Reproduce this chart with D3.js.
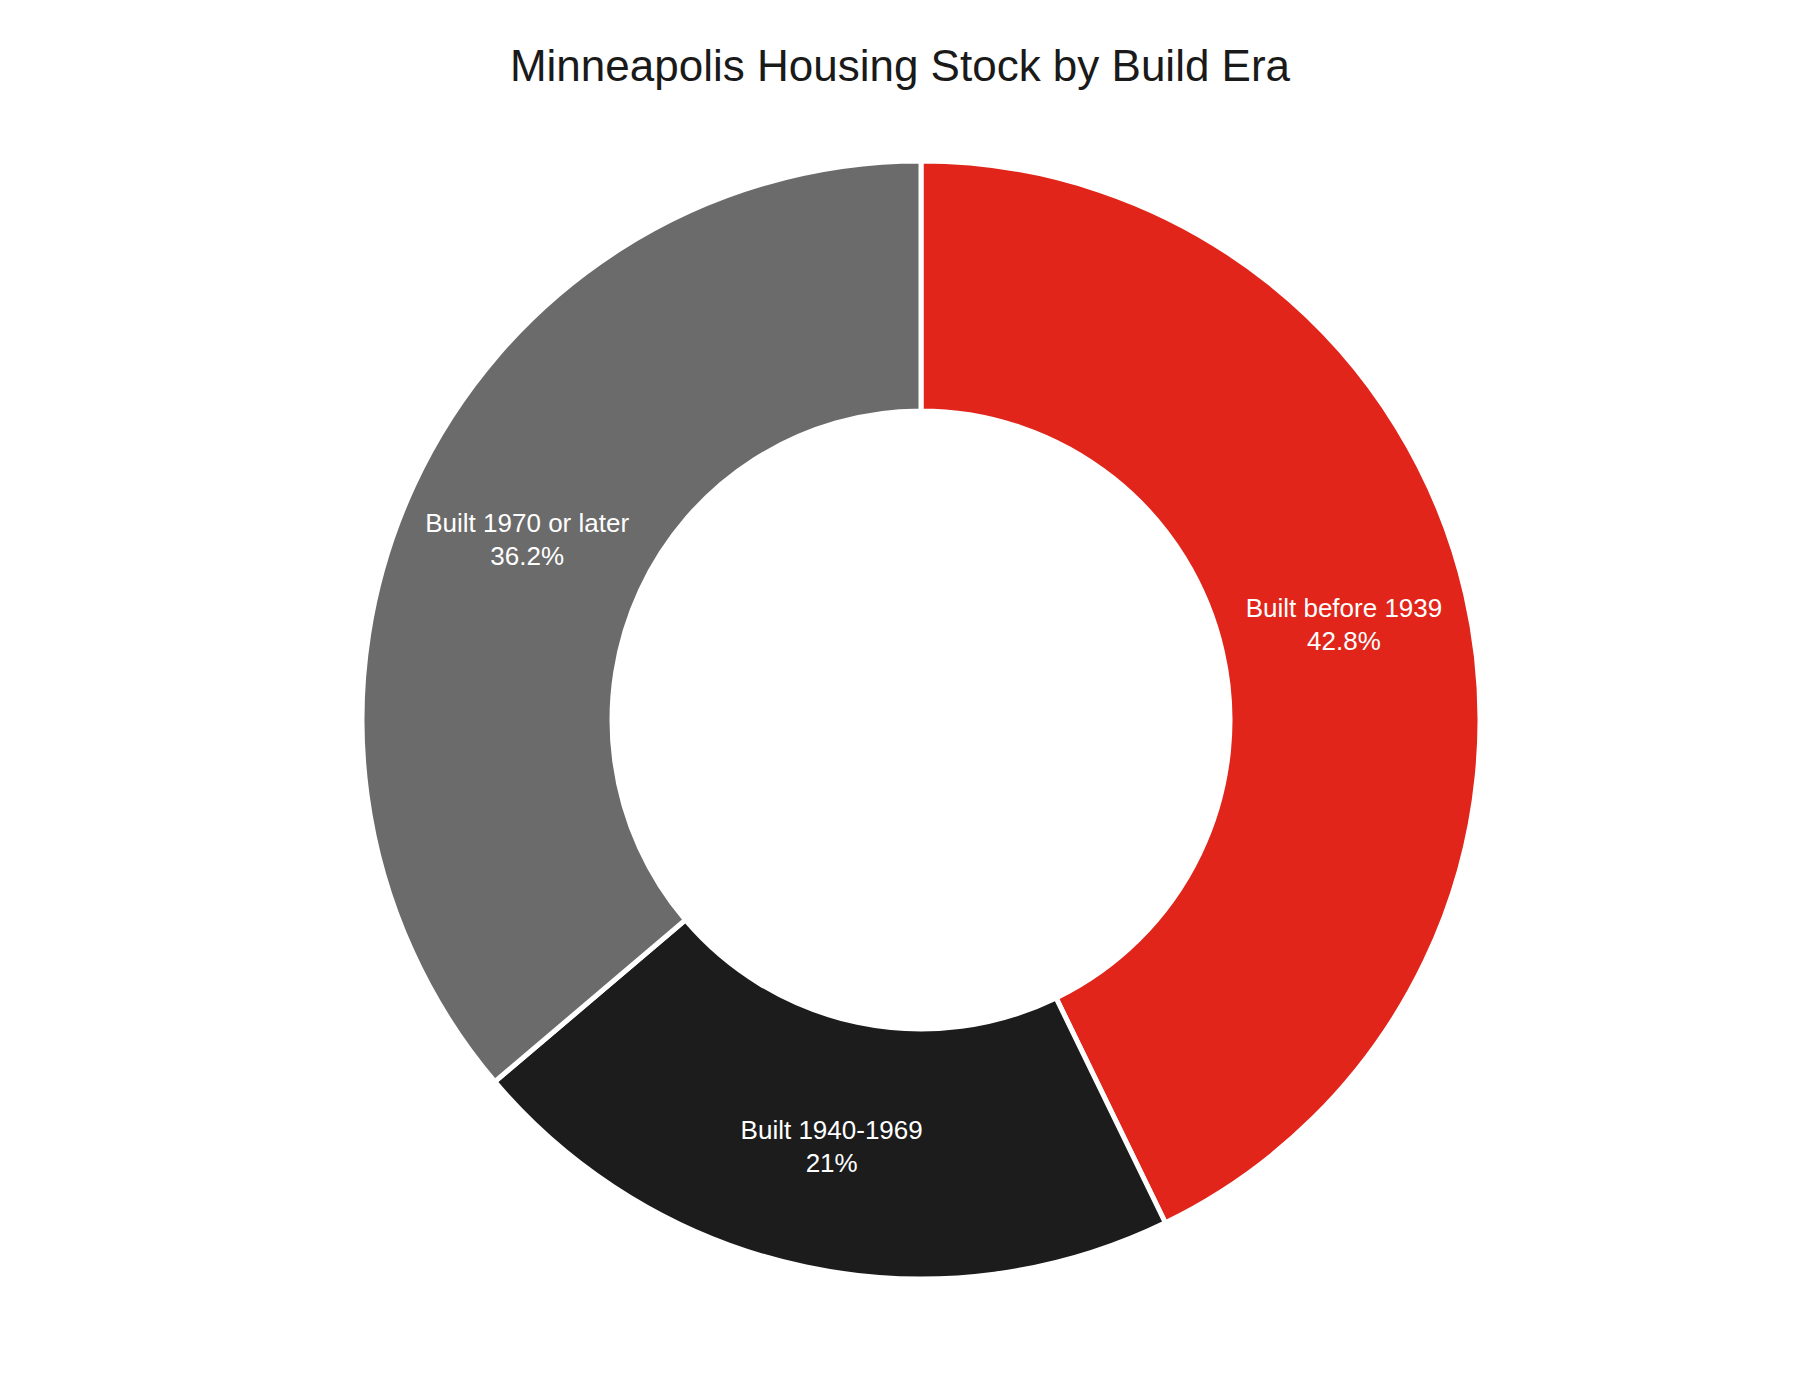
<!DOCTYPE html>
<html>
<head>
<meta charset="utf-8">
<script src="https://cdn.jsdelivr.net/npm/d3@7"></script>
<style>
  html, body { margin: 0; padding: 0; background: #fff; }
  svg { display: block; }
</style>
</head>
<body>
<svg id="chart" width="1800" height="1400"></svg>
<script>
const categories = ["Built before 1939", "Built 1940-1969", "Built 1970 or later"];
const values = [42.8, 21, 36.2];
const colors = ["#E1251B", "#1C1C1C", "#6B6B6B"];
const titleText = "Minneapolis Housing Stock by Build Era";

const svg = d3.select("#chart");
const cx = 921, cy = 720, outerR = 559, innerR = 309;

svg.append("text")
  .attr("x", 900).attr("y", 81)
  .attr("text-anchor", "middle")
  .attr("font-family", "'Liberation Sans', Arial, Helvetica, sans-serif")
  .attr("font-size", 44)
  .attr("fill", "#1a1a1a")
  .text(titleText);

const data = categories.map((c, i) => ({ label: c, value: values[i], color: colors[i] }));
const pie = d3.pie().sort(null).value(d => d.value).startAngle(0).endAngle(2 * Math.PI);
const arc = d3.arc().innerRadius(innerR).outerRadius(outerR);
const arcs = pie(data);

const g = svg.append("g").attr("transform", `translate(${cx},${cy})`);
g.selectAll("path").data(arcs).join("path")
  .attr("d", arc)
  .attr("fill", d => d.data.color)
  .attr("stroke", "#ffffff")
  .attr("stroke-width", 5)
  .attr("stroke-linejoin", "miter");

const fmt = v => `${v}%`;
const labels = g.selectAll("text.lbl").data(arcs).join("text")
  .attr("class", "lbl")
  .attr("text-anchor", "middle")
  .attr("font-family", "'Liberation Sans', Arial, Helvetica, sans-serif")
  .attr("font-size", 26)
  .attr("fill", "#ffffff")
  .attr("transform", d => { const [x, y] = arc.centroid(d); return `translate(${x},${y})`; });
labels.append("tspan").attr("x", 0).attr("y", -6).text(d => d.data.label);
labels.append("tspan").attr("x", 0).attr("y", 27).text(d => fmt(d.data.value));
</script>
</body>
</html>
